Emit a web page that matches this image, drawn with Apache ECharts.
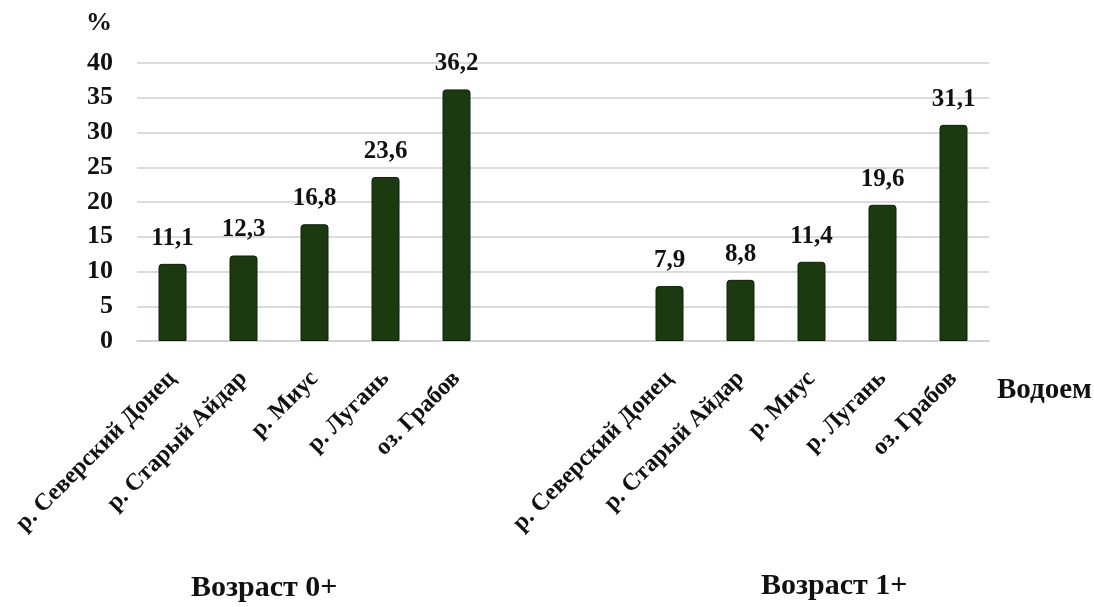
<!DOCTYPE html>
<html>
<head>
<meta charset="utf-8">
<script src="https://cdn.jsdelivr.net/npm/echarts@6/dist/echarts.min.js"></script>
<style>
  html, body { margin: 0; padding: 0; background: #ffffff; }
  #chart { width: 1094px; height: 607px; }
</style>
</head>
<body>
<div id="chart"></div>
<script>
// ---- data ----
const rivers = ['р. Северский Донец', 'р. Старый Айдар', 'р. Миус', 'р. Лугань', 'оз. Грабов'];
const age0 = [11.1, 12.3, 16.8, 23.6, 36.2];
const age1 = [7.9, 8.8, 11.4, 19.6, 31.1];
const groupTitles = ['Возраст 0+', 'Возраст 1+'];
const gapSlots = ['', ''];
const yTicks = { min: 0, max: 40, interval: 5 };
const yName = '%';
const xName = 'Водоем';

// ---- build ----
const categories = [...rivers, ...gapSlots, ...rivers];
const values = [...age0, ...gapSlots.map(() => null), ...age1];

const FONT = '"Liberation Serif", "Times New Roman", serif';
const gridColor = '#cfcfcf';

const chart = echarts.init(document.getElementById('chart'), null, { renderer: 'canvas' });
chart.setOption({
  backgroundColor: '#ffffff',
  animation: false,
  grid: { left: 137, right: 105, top: 63, bottom: 266, containLabel: false, outerBoundsMode: 'none' },
  xAxis: {
    type: 'category',
    data: categories,
    axisTick: { show: false },
    axisLine: { show: true, lineStyle: { color: gridColor, width: 1.5 } },
    axisLabel: {
      interval: 0,
      rotate: 45,
      margin: 34,
      fontFamily: FONT,
      fontWeight: 'bold',
      fontSize: 24,
      color: '#111111'
    }
  },
  yAxis: {
    type: 'value',
    min: yTicks.min,
    max: yTicks.max,
    interval: yTicks.interval,
    name: yName,
    nameLocation: 'end',
    nameGap: 27,
    nameTextStyle: {
      fontFamily: FONT, fontWeight: 'bold', fontSize: 26, color: '#111111',
      align: 'right', padding: [0, 25, 0, 0]
    },
    axisLine: { show: false },
    axisTick: { show: false },
    splitLine: { lineStyle: { color: gridColor, width: 1.5 } },
    axisLabel: {
      margin: 24,
      fontFamily: FONT,
      fontWeight: 'bold',
      fontSize: 26,
      color: '#111111'
    }
  },
  series: [{
    type: 'bar',
    data: values,
    barWidth: 28,
    itemStyle: {
      color: '#1b3a10',
      borderColor: '#0e2008',
      borderWidth: 1,
      borderRadius: [3, 3, 0, 0]
    },
    label: {
      show: true,
      position: 'top',
      distance: 13,
      fontFamily: FONT,
      fontWeight: 'bold',
      fontSize: 25,
      color: '#111111',
      formatter: p => String(p.value).replace('.', ',')
    }
  }],
  graphic: [
    {
      type: 'text', left: 997, top: 376,
      style: { text: xName, font: 'bold 29px ' + FONT, fill: '#111111' }
    },
    {
      type: 'text', left: 191, top: 573,
      style: { text: groupTitles[0], font: 'bold 30px ' + FONT, fill: '#111111' }
    },
    {
      type: 'text', left: 761, top: 571,
      style: { text: groupTitles[1], font: 'bold 30px ' + FONT, fill: '#111111' }
    }
  ]
});
</script>
</body>
</html>
